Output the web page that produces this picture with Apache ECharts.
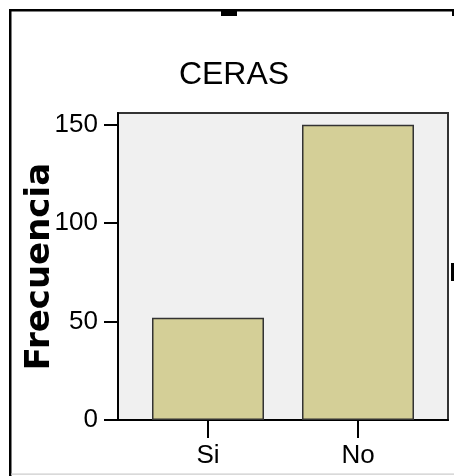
<!DOCTYPE html>
<html>
<head>
<meta charset="utf-8">
<script src="https://cdn.jsdelivr.net/npm/echarts@6/dist/echarts.min.js"></script>
<style>html,body{margin:0;padding:0;background:#fff;}#c{width:454px;height:476px;}</style>
</head>
<body>
<div id="c"></div>
<script>
const categories = ['Si', 'No'];
const frequencies = [52, 150];
const yTicks = [0, 50, 100, 150];
const titleText = 'CERAS';
const yTitle = 'Frecuencia';

const chart = echarts.init(document.getElementById('c'), null, {renderer: 'canvas'});
const labelFont = "'Liberation Sans Narrow', 'Arial Narrow', 'Liberation Sans', sans-serif";
chart.setOption({
  animation: false,
  backgroundColor: '#fff',
  title: {
    text: titleText,
    left: 229, top: 54, textAlign: 'center',
    textStyle: {fontFamily: "'Liberation Sans', Arial, sans-serif", fontSize: 32, fontWeight: 'normal', color: '#000'}
  },
  grid: {
    left: 118, right: 6, top: 113, bottom: 56,
    show: true, backgroundColor: '#f0f0f0', borderColor: '#333', borderWidth: 2
  },
  xAxis: {
    type: 'value', min: 0.4, max: 2.6,
    axisLine: {show: true, lineStyle: {color: '#000', width: 2}},
    axisTick: {show: true, customValues: categories.map((c, i) => i + 1), length: 18, lineStyle: {color: '#000', width: 2}},
    axisLabel: {customValues: categories.map((c, i) => i + 1), formatter: v => categories[Math.round(v) - 1] || '',
      margin: 23, fontFamily: labelFont, fontSize: 26, color: '#000'},
    splitLine: {show: false}
  },
  yAxis: {
    type: 'value', min: 0, max: 156,
    name: yTitle, nameLocation: 'middle', nameGap: 61, nameMoveOverlap: false,
    nameTextStyle: {fontFamily: "'DejaVu Sans', Verdana, sans-serif", fontWeight: 'bold', fontSize: 34, color: '#000'},
    axisLine: {show: true, lineStyle: {color: '#000', width: 2}},
    axisTick: {show: true, customValues: yTicks, length: 14, lineStyle: {color: '#000', width: 2}},
    axisLabel: {customValues: yTicks, margin: 20, fontFamily: labelFont, fontSize: 26, color: '#000'},
    splitLine: {show: false}
  },
  series: [{
    type: 'bar',
    barWidth: 112,
    data: categories.map((c, i) => [i + 1, frequencies[i]]),
    itemStyle: {color: '#d4cf97', borderColor: '#333', borderWidth: 1.5}
  }],
  graphic: [
    {type: 'rect', shape: {x: 9, y: 9, width: 445, height: 2.5}, style: {fill: '#000'}},
    {type: 'rect', shape: {x: 9, y: 9, width: 2.5, height: 467}, style: {fill: '#000'}},
    {type: 'rect', shape: {x: 221, y: 10, width: 16, height: 6}, style: {fill: '#000'}},
    {type: 'rect', shape: {x: 452, y: 10, width: 2, height: 6}, style: {fill: '#000'}},
    {type: 'rect', shape: {x: 451, y: 263, width: 3, height: 18}, style: {fill: '#000'}},
    {type: 'rect', shape: {x: 11, y: 473.5, width: 443, height: 1.2}, style: {fill: '#ccc'}}
  ]
});
</script>
</body>
</html>
